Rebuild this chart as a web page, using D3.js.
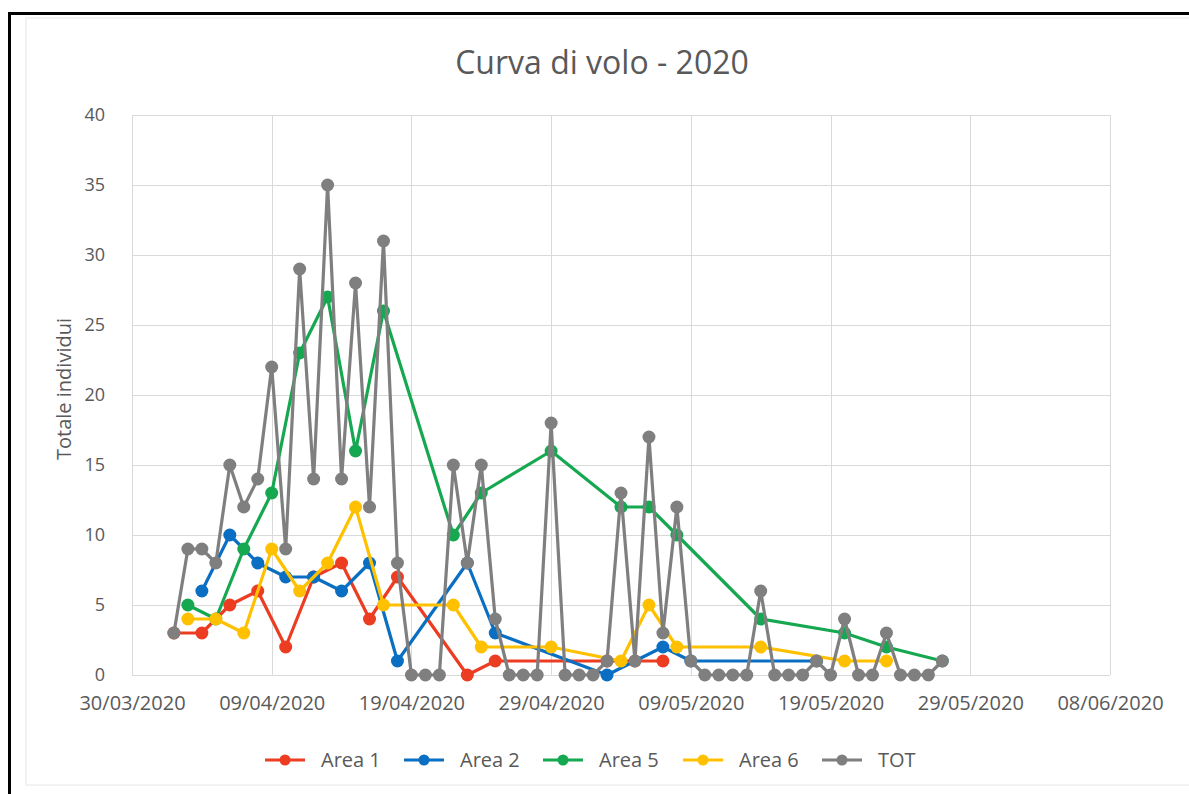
<!DOCTYPE html>
<html>
<head>
<meta charset="utf-8">
<script src="https://cdn.jsdelivr.net/npm/d3@7"></script>
<style>
  html, body { margin: 0; padding: 0; background: #fff; }
  svg { display: block; }
  text { font-family: "Open Sans", "Noto Sans", sans-serif; fill: #595959; }
</style>
</head>
<body>
<svg id="chart" width="1189" height="794"></svg>
<script>
// Daily counts per area (dd/mm, year 2020)
const area1Dates  = ["02/04","04/04","06/04","08/04","10/04","12/04","14/04","16/04","18/04","23/04","25/04","03/05","05/05","07/05"];
const area1Values = [3, 3, 5, 6, 2, 7, 8, 4, 7, 0, 1, 1, 1, 1];

const area2Dates  = ["04/04","06/04","08/04","10/04","12/04","14/04","16/04","18/04","23/04","25/04","03/05","07/05","09/05","18/05"];
const area2Values = [6, 10, 8, 7, 7, 6, 8, 1, 8, 3, 0, 2, 1, 1];

const area5Dates  = ["03/04","05/04","07/04","09/04","11/04","13/04","15/04","17/04","22/04","24/04","29/04","04/05","06/05","08/05","14/05","20/05","23/05","27/05"];
const area5Values = [5, 4, 9, 13, 23, 27, 16, 26, 10, 13, 16, 12, 12, 10, 4, 3, 2, 1];

const area6Dates  = ["03/04","05/04","07/04","09/04","11/04","13/04","15/04","17/04","22/04","24/04","29/04","04/05","06/05","08/05","14/05","20/05","23/05"];
const area6Values = [4, 4, 3, 9, 6, 8, 12, 5, 5, 2, 2, 1, 5, 2, 2, 1, 1];

const totDates = ["02/04","03/04","04/04","05/04","06/04","07/04","08/04","09/04","10/04","11/04",
                  "12/04","13/04","14/04","15/04","16/04","17/04","18/04","19/04","20/04","21/04",
                  "22/04","23/04","24/04","25/04","26/04","27/04","28/04","29/04","30/04","01/05",
                  "02/05","03/05","04/05","05/05","06/05","07/05","08/05","09/05","10/05","11/05",
                  "12/05","13/05","14/05","15/05","16/05","17/05","18/05","19/05","20/05","21/05",
                  "22/05","23/05","24/05","25/05","26/05","27/05"];
const totValues = [3, 9, 9, 8, 15, 12, 14, 22, 9, 29,
                   14, 35, 14, 28, 12, 31, 8, 0, 0, 0,
                   15, 8, 15, 4, 0, 0, 0, 18, 0, 0,
                   0, 1, 13, 1, 17, 3, 12, 1, 0, 0,
                   0, 0, 6, 0, 0, 0, 1, 0, 4, 0,
                   0, 3, 0, 0, 0, 1];

const seriesNames  = ["Area 1", "Area 2", "Area 5", "Area 6", "TOT"];
const seriesColors = ["#ec3d23", "#0a6fc2", "#16a851", "#ffc000", "#7f7f7f"];

const xTickLabels = ["30/03/2020","09/04/2020","19/04/2020","29/04/2020","09/05/2020","19/05/2020","29/05/2020","08/06/2020"];
const yTickValues = [0, 5, 10, 15, 20, 25, 30, 35, 40];

const chartTitle = "Curva di volo - 2020";
const yAxisTitle = "Totale individui";

// ---- build series ----
const parseDay = d3.timeParse("%d/%m/%Y");
const fmtTick  = d3.timeFormat("%d/%m/%Y");
const toPoints = (dates, values) => dates.map((d, i) => ({ date: parseDay(d + "/2020"), value: values[i] }));

const series = [
  toPoints(area1Dates, area1Values),
  toPoints(area2Dates, area2Values),
  toPoints(area5Dates, area5Values),
  toPoints(area6Dates, area6Values),
  toPoints(totDates, totValues)
].map((pts, i) => ({ name: seriesNames[i], color: seriesColors[i], points: pts }));

// ---- layout ----
const svg = d3.select("#chart");
const plot = { left: 132, right: 1110, top: 115, bottom: 675 };

// outer frame
svg.append("rect")
  .attr("x", 26).attr("y", 18).attr("width", 1180).attr("height", 767)
  .attr("fill", "none").attr("stroke", "#e6e6e6").attr("stroke-width", 1);
svg.append("rect")
  .attr("x", 9.5).attr("y", 13.5).attr("width", 1200).attr("height", 800)
  .attr("fill", "none").attr("stroke", "#000").attr("stroke-width", 3);

const xTicks = xTickLabels.map(s => parseDay(s));
const x = d3.scaleTime()
  .domain([xTicks[0], xTicks[xTicks.length - 1]])
  .range([plot.left, plot.right]);
const y = d3.scaleLinear().domain([0, 40]).range([plot.bottom, plot.top]);

// gridlines
const grid = svg.append("g");
grid.selectAll("line.h").data(yTickValues).join("line")
  .attr("x1", plot.left).attr("x2", plot.right)
  .attr("y1", d => Math.round(y(d)) + 0.5).attr("y2", d => Math.round(y(d)) + 0.5)
  .attr("stroke", "#d9d9d9").attr("stroke-width", 1);
grid.selectAll("line.v").data(xTicks).join("line")
  .attr("x1", d => Math.round(x(d)) + 0.5).attr("x2", d => Math.round(x(d)) + 0.5)
  .attr("y1", plot.top).attr("y2", plot.bottom)
  .attr("stroke", "#d9d9d9").attr("stroke-width", 1);

// axes (labels only, lines come from the grid)
const xAxis = svg.append("g")
  .attr("transform", `translate(0,${plot.bottom})`)
  .call(d3.axisBottom(x).tickValues(xTicks).tickFormat(fmtTick).tickSize(0).tickPadding(21));
xAxis.select(".domain").remove();
xAxis.selectAll("text").style("font-size", "20px").attr("fill", "#595959");

const yAxis = svg.append("g")
  .attr("transform", `translate(${plot.left},0)`)
  .call(d3.axisLeft(y).tickValues(yTickValues).tickSize(0).tickPadding(27));
yAxis.select(".domain").remove();
yAxis.selectAll("text").style("font-size", "18px").attr("fill", "#595959");

// titles
svg.append("text")
  .attr("x", 602).attr("y", 74)
  .attr("text-anchor", "middle")
  .style("font-size", "32px")
  .text(chartTitle);

svg.append("text")
  .attr("transform", `translate(71,${(plot.top + plot.bottom) / 2 - 6}) rotate(-90)`)
  .attr("text-anchor", "middle")
  .style("font-size", "20px")
  .text(yAxisTitle);

// lines + markers
const line = d3.line().x(d => x(d.date)).y(d => y(d.value));
const marks = svg.append("g");
series.forEach(s => {
  const g = marks.append("g");
  g.append("path")
    .datum(s.points)
    .attr("d", line)
    .attr("fill", "none")
    .attr("stroke", s.color)
    .attr("stroke-width", 3.2)
    .attr("stroke-linejoin", "round");
  g.selectAll("circle").data(s.points).join("circle")
    .attr("cx", d => x(d.date)).attr("cy", d => y(d.value))
    .attr("r", 6.5)
    .attr("fill", s.color);
});

// legend
const legendX = [265, 404, 543, 683, 822];
const legend = svg.append("g").attr("transform", "translate(0,760)");
series.forEach((s, i) => {
  const g = legend.append("g").attr("transform", `translate(${legendX[i]},0)`);
  g.append("line").attr("x1", 0).attr("x2", 40).attr("y1", 0).attr("y2", 0)
    .attr("stroke", s.color).attr("stroke-width", 3.2);
  g.append("circle").attr("cx", 20).attr("cy", 0).attr("r", 5.5).attr("fill", s.color);
  g.append("text").attr("x", 56).attr("y", 0).attr("dy", "0.35em")
    .style("font-size", "20px").text(s.name);
});
</script>
</body>
</html>
